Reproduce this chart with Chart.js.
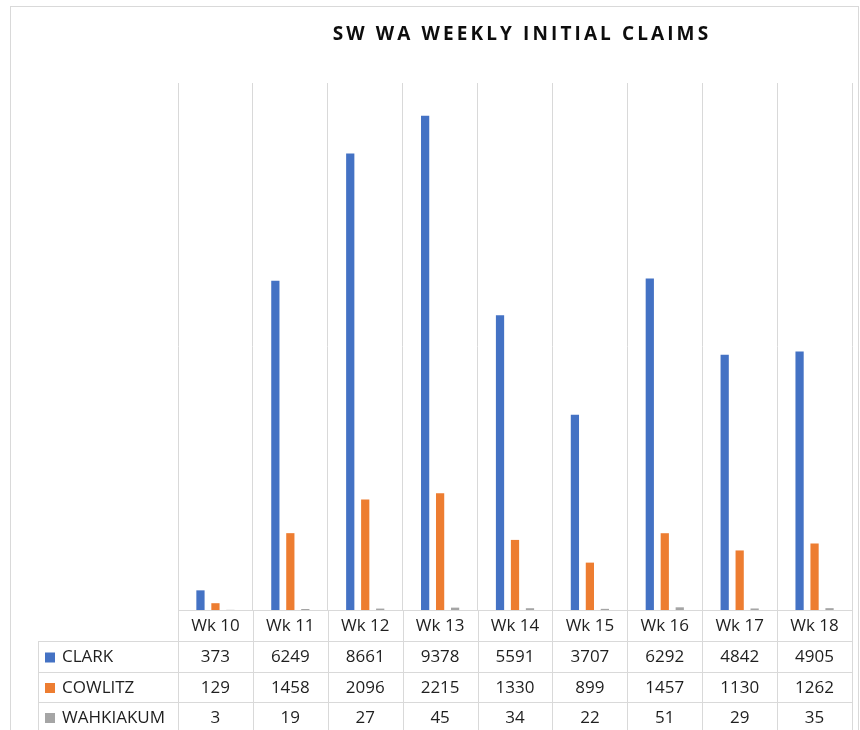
<!DOCTYPE html>
<html>
<head>
<meta charset="utf-8">
<script src="https://cdn.jsdelivr.net/npm/chart.js@4"></script>
<style>
   html, body { margin: 0; padding: 0; background: #fff; }
   #wrap { width: 860px; height: 730px; position: relative; }
</style>
</head>
<body>
<div id="wrap"><canvas id="claims"></canvas></div>
<script>
// data
const weeks = ["Wk 10", "Wk 11", "Wk 12", "Wk 13", "Wk 14", "Wk 15", "Wk 16", "Wk 17", "Wk 18"];
const clark = [373, 6249, 8661, 9378, 5591, 3707, 6292, 4842, 4905];
const cowlitz = [129, 1458, 2096, 2215, 1330, 899, 1457, 1130, 1262];
const wahkiakum = [3, 19, 27, 45, 34, 22, 51, 29, 35];
const seriesNames = ["CLARK", "COWLITZ", "WAHKIAKUM"];
const seriesColors = ["#4472c4", "#ed7d31", "#a5a5a5"];
const titleText = "SW WA WEEKLY INITIAL CLAIMS";

const gridColor = "#d9d9d9";
const textColor = "#1f1f1f";

// draws title, frame and the data table under the plot
const tablePlugin = {
   id: "dataTable",
   afterDraw(chart) {
      const ctx = chart.ctx;
      const x = chart.scales.x;
      const area = chart.chartArea;
      const rows = [chart.data.datasets[0].data, chart.data.datasets[1].data, chart.data.datasets[2].data];
      const rowTop = [area.bottom, 641, 672, 702, 732];
      const left = 38;
      const step = x.getPixelForValue(1) - x.getPixelForValue(0);
      const colEdges = [];
      for (let i = 0; i <= weeks.length; i++) colEdges.push(x.getPixelForValue(i) - step / 2);

      ctx.save();
      // outer frame
      ctx.strokeStyle = "#d9d9d9";
      ctx.lineWidth = 1;
      ctx.strokeRect(10.5, 6.5, 848, 730);

      // title
      ctx.fillStyle = "#0d0d0d";
      ctx.font = "bold 19px 'Open Sans'";
      ctx.letterSpacing = "3.1px";
      ctx.textAlign = "center";
      ctx.textBaseline = "middle";
      ctx.fillText(titleText, (area.left + area.right) / 2 + 7, 35);
      ctx.letterSpacing = "0px";

      // table lines
      ctx.strokeStyle = gridColor;
      ctx.beginPath();
      colEdges.forEach(function (cx) {
         ctx.moveTo(Math.round(cx) + 0.5, area.bottom);
         ctx.lineTo(Math.round(cx) + 0.5, 730);
      });
      ctx.moveTo(left + 0.5, rowTop[1]);
      ctx.lineTo(left + 0.5, 730);
      for (let r = 1; r <= 3; r++) {
         ctx.moveTo(left, rowTop[r] + 0.5);
         ctx.lineTo(colEdges[colEdges.length - 1], rowTop[r] + 0.5);
      }
      ctx.moveTo(colEdges[0], area.bottom + 0.5);
      ctx.lineTo(colEdges[colEdges.length - 1], area.bottom + 0.5);
      ctx.stroke();

      // header
      ctx.font = "17px 'Open Sans'";
      ctx.fillStyle = textColor;
      weeks.forEach(function (w, i) {
         ctx.fillText(w, x.getPixelForValue(i), (rowTop[0] + rowTop[1]) / 2 + 1);
      });

      // rows
      rows.forEach(function (vals, r) {
         const cy = (rowTop[r + 1] + rowTop[r + 2]) / 2 + 1;
         ctx.fillStyle = seriesColors[r];
         ctx.fillRect(45, cy - 5, 10, 10);
         ctx.fillStyle = textColor;
         ctx.textAlign = "left";
         ctx.fillText(seriesNames[r], 62, cy);
         ctx.textAlign = "center";
         vals.forEach(function (v, i) {
            ctx.fillText(String(v), x.getPixelForValue(i), cy);
         });
      });
      ctx.restore();
   }
};

const ctx = document.getElementById("claims").getContext("2d");
const claimsChart = new Chart(ctx, {
   type: "bar",
   data: {
      labels: weeks,
      datasets: [
         { label: seriesNames[0], data: clark, backgroundColor: seriesColors[0] },
         { label: seriesNames[1], data: cowlitz, backgroundColor: seriesColors[1] },
         { label: seriesNames[2], data: wahkiakum, backgroundColor: seriesColors[2] },
      ],
   },
   options: {
      responsive: true,
      maintainAspectRatio: false,
      animation: false,
      categoryPercentage: 0.6,
      barPercentage: 0.55,
      layout: {
         padding: { left: 178, right: 8, top: 83, bottom: 120 },
      },
      scales: {
         x: {
            ticks: { display: false },
            border: { display: false },
            grid: { color: gridColor, drawTicks: false },
         },
         y: {
            display: false,
            min: 0,
            max: 10000,
         },
      },
      plugins: {
         legend: { display: false },
         tooltip: { enabled: false },
      },
   },
   plugins: [tablePlugin],
});
</script>
</body>
</html>
